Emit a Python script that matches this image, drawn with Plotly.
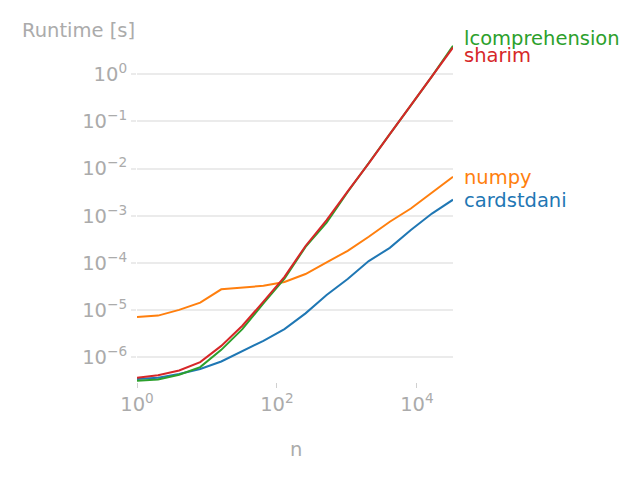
import plotly.graph_objects as go
import math

# ---- data ----
n = [1, 2, 4, 8, 16, 32, 64, 128, 256, 512, 1024, 2048, 4096, 8192, 16384, 32768]
cardstdani = [3.48e-7, 3.72e-7, 4.45e-7, 5.68e-7, 8.2e-7, 1.38e-6, 2.25e-6, 4.0e-6,
              8.6e-6, 2.1e-5, 4.6e-5, 1.1e-4, 2.1e-4, 5.0e-4, 1.12e-3, 2.2e-3]
numpy_t = [7.2e-6, 7.7e-6, 1.02e-5, 1.45e-5, 2.78e-5, 3.0e-5, 3.3e-5, 3.97e-5,
           5.86e-5, 1.03e-4, 1.82e-4, 3.6e-4, 7.5e-4, 1.43e-3, 3.06e-3, 6.7e-3]
lcomprehension = [3.2e-7, 3.4e-7, 4.3e-7, 6.25e-7, 1.45e-6, 3.97e-6, 1.4e-5, 4.7e-5,
                  2.2e-4, 7.2e-4, 3.2e-3, 1.28e-2, 5.4e-2, 0.22, 0.9, 4.0]
sharim = [3.72e-7, 4.2e-7, 5.3e-7, 7.96e-7, 1.76e-6, 4.7e-6, 1.52e-5, 5.1e-5,
          2.3e-4, 8.1e-4, 3.3e-3, 1.29e-2, 5.4e-2, 0.219, 0.89, 3.7]

series_names = ["cardstdani", "numpy", "lcomprehension", "sharim"]
series_values = [cardstdani, numpy_t, lcomprehension, sharim]
series_colors = ["#1f77b4", "#ff7f0e", "#2ca02c", "#d62728"]

x_tick_vals = [1, 100, 10000]
x_tick_labels = ["10<sup>0</sup>", "10<sup>2</sup>", "10<sup>4</sup>"]
y_tick_vals = [1e-6, 1e-5, 1e-4, 1e-3, 1e-2, 1e-1, 1]
y_tick_labels = ["10<sup>\u22126</sup>", "10<sup>\u22125</sup>", "10<sup>\u22124</sup>",
                 "10<sup>\u22123</sup>", "10<sup>\u22122</sup>", "10<sup>\u22121</sup>",
                 "10<sup>0</sup>"]

# ---- layout geometry (page pixels; the page body has an 8px margin) ----
OFF = 8
W, H = 639 - OFF, 479 - OFF
L, R, T, B = 137 - OFF, 453 - OFF, 45 - OFF, 382 - OFF

def px_x(p):
    return (p - OFF - L) / (R - L)

def px_y(p):
    return (B - (p - OFF)) / (B - T)

GREY = "#ababab"
GRID = "#ebebeb"
FONT = "DejaVu Sans"
FS = 19.5

fig = go.Figure()
for name, vals, col in zip(series_names, series_values, series_colors):
    fig.add_trace(go.Scatter(x=n, y=vals, mode="lines", name=name,
                             line=dict(color=col, width=2)))

# label positions (page pixel y of label centres, right of the plot)
label_y = {"lcomprehension": 38, "sharim": 55, "numpy": 177, "cardstdani": 200}
annotations = []
for name, col in zip(series_names, series_colors):
    annotations.append(dict(text=name, x=px_x(462), y=px_y(label_y[name]),
                            xref="paper", yref="paper", xanchor="left",
                            yanchor="middle", showarrow=False,
                            font=dict(color=col, size=FS, family=FONT)))
annotations.append(dict(text="Runtime [s]", x=px_x(20), y=px_y(31),
                        xref="paper", yref="paper", xanchor="left",
                        yanchor="middle", showarrow=False,
                        font=dict(color=GREY, size=FS, family=FONT)))
annotations.append(dict(text="n", x=px_x(296), y=px_y(449),
                        xref="paper", yref="paper", xanchor="center",
                        yanchor="middle", showarrow=False,
                        font=dict(color=GREY, size=FS, family=FONT)))

fig.update_layout(
    width=W, height=H,
    margin=dict(l=L, r=W - R, t=T, b=H - B, pad=0),
    paper_bgcolor="white", plot_bgcolor="white",
    showlegend=False,
    font=dict(family=FONT, color=GREY, size=FS),
    annotations=annotations,
    xaxis=dict(type="log", range=[0, math.log10(32768)],
               tickvals=x_tick_vals, ticktext=x_tick_labels,
               showgrid=False, zeroline=False, showline=False,
               ticks="outside", ticklen=5, tickwidth=1, tickcolor="#d0d0d0",
               tickfont=dict(color=GREY, size=FS, family=FONT)),
    yaxis=dict(type="log", range=[-6.52, 0.62],
               tickvals=y_tick_vals, ticktext=y_tick_labels,
               showgrid=True, gridcolor=GRID, gridwidth=1.5,
               zeroline=False, showline=False,
               ticks="outside", ticklen=5, tickwidth=1.5, tickcolor=GRID,
               tickfont=dict(color=GREY, size=FS, family=FONT)),
)

fig.write_html("out.html")
